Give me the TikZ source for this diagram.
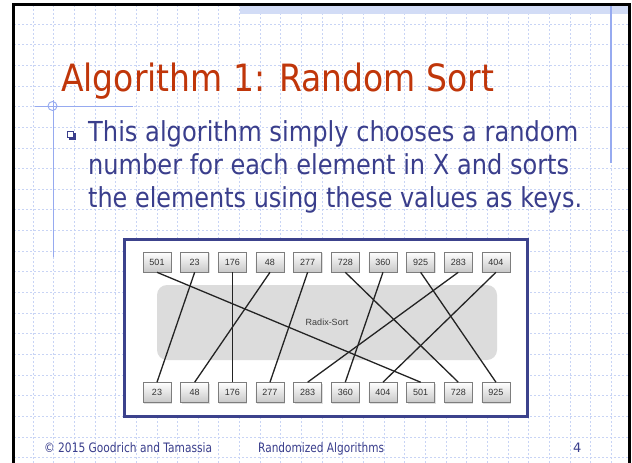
\documentclass[tikz,border=0pt]{standalone}
\usepackage{fontspec}
\setmainfont{DejaVu Sans}
\newfontfamily\numfont{Liberation Sans}
\usepackage{graphicx}
\usetikzlibrary{shadows}
\definecolor{titlered}{RGB}{192,54,10}
\definecolor{bodyblue}{RGB}{58,62,140}
\definecolor{gridblue}{RGB}{200,212,245}
\definecolor{lineblue}{RGB}{150,170,240}
\definecolor{bandblue}{RGB}{210,220,246}
\definecolor{frameblue}{RGB}{60,66,140}
\definecolor{rsgray}{RGB}{220,220,220}
\definecolor{boxedge}{RGB}{125,125,125}
\tikzset{
  gridline/.style={gridblue, line width=0.9pt, dash pattern=on 2pt off 2pt},
  numbox/.style={draw=boxedge, line width=0.6pt, top color=white, bottom color={rgb,255:red,200;green,200;blue,200},
    minimum width=28pt, minimum height=20pt, inner sep=0pt,
    font=\numfont\fontsize{9}{10}\selectfont, text={rgb,255:red,50;green,50;blue,50},
    drop shadow={shadow xshift=1pt, shadow yshift=-1pt, opacity=0.25}},
  conn/.style={draw={rgb,255:red,35;green,35;blue,35}, line width=1.3pt},
  slidetext/.style={anchor=base west, inner sep=0pt}
}
\begin{document}
\begin{tikzpicture}[x=1pt,y=-1pt]
\useasboundingbox (0,0) rectangle (632,463);
\fill[white] (0,0) rectangle (632,463);
% grid
\foreach \k in {1,...,29} \draw[gridline] ({12.4+20.65*\k},5) -- ({12.4+20.65*\k},463);
\foreach \k in {1,...,22} \draw[gridline] (14,{3.4+20.65*\k}) -- (628,{3.4+20.65*\k});
% top band
\fill[bandblue] (240,5.5) rectangle (628,14);
% decorative lines
\draw[lineblue, line width=1.5pt] (611,4) -- (611,163);
\draw[lineblue, line width=1pt] (35,106) -- (133,106);
\draw[lineblue, line width=1pt] (53,100) -- (53,257);
\draw[lineblue, line width=0.9pt] (52.5,106) circle (4.5);
% slide border
\draw[black, line width=3pt] (13,463) -- (13,4) -- (629,4) -- (629,463);
% title
\node[slidetext, text=titlered] (title) at (61,91)
  {\resizebox{433pt}{\height}{\fontsize{37.6}{40}\selectfont Algorithm 1: Random Sort}};
% bullet
\fill[bodyblue] (68.5,132.5) rectangle (75.5,139.5);
\draw[bodyblue, fill=white, line width=0.8pt] (67,131) rectangle (73.5,137.5);
% body
\node[slidetext, text=bodyblue] (l1) at (88,141.7)
  {\resizebox{490pt}{\height}{\fontsize{27.5}{33}\selectfont This algorithm simply chooses a random}};
\node[slidetext, text=bodyblue] (l2) at (88,174.5)
  {\resizebox{481pt}{\height}{\fontsize{27.5}{33}\selectfont number for each element in X and sorts}};
\node[slidetext, text=bodyblue] (l3) at (88,207.3)
  {\resizebox{494pt}{\height}{\fontsize{27.5}{33}\selectfont the elements using these values as keys.}};
% figure frame
\draw[frameblue, line width=3pt, fill=white] (124,239) rectangle (527,416);
\node[fill=rsgray, rounded corners=10pt, minimum width=340pt, minimum height=75pt,
      font=\numfont\fontsize{9}{10}\selectfont, text={rgb,255:red,60;green,60;blue,60}] (rs) at (327,322.5) {Radix-Sort};
% boxes
\foreach \v [count=\i from 0] in {501,23,176,48,277,728,360,925,283,404}
  \node[numbox] (t\i) at ({157+37.66*\i},262) {\v};
\foreach \v [count=\i from 0] in {23,48,176,277,283,360,404,501,728,925}
  \node[numbox] (b\i) at ({157+37.66*\i},392.5) {\v};
% connectors
\draw[conn] (t0.south) -- (b7.north);
\draw[conn] (t1.south) -- (b0.north);
\draw[conn] (t2.south) -- (b2.north);
\draw[conn] (t3.south) -- (b1.north);
\draw[conn] (t4.south) -- (b3.north);
\draw[conn] (t5.south) -- (b8.north);
\draw[conn] (t6.south) -- (b5.north);
\draw[conn] (t7.south) -- (b9.north);
\draw[conn] (t8.south) -- (b4.north);
\draw[conn] (t9.south) -- (b6.north);
% footer
\node[slidetext, text=bodyblue] (f1) at (44,452)
  {\resizebox{168pt}{\height}{\fontsize{13}{14}\selectfont © 2015 Goodrich and Tamassia}};
\node[slidetext, text=bodyblue] (f2) at (258,452)
  {\resizebox{126pt}{\height}{\fontsize{13}{14}\selectfont Randomized Algorithms}};
\node[slidetext, text=bodyblue] (f3) at (573,452)
  {\fontsize{13}{14}\selectfont 4};
\end{tikzpicture}
\end{document}
